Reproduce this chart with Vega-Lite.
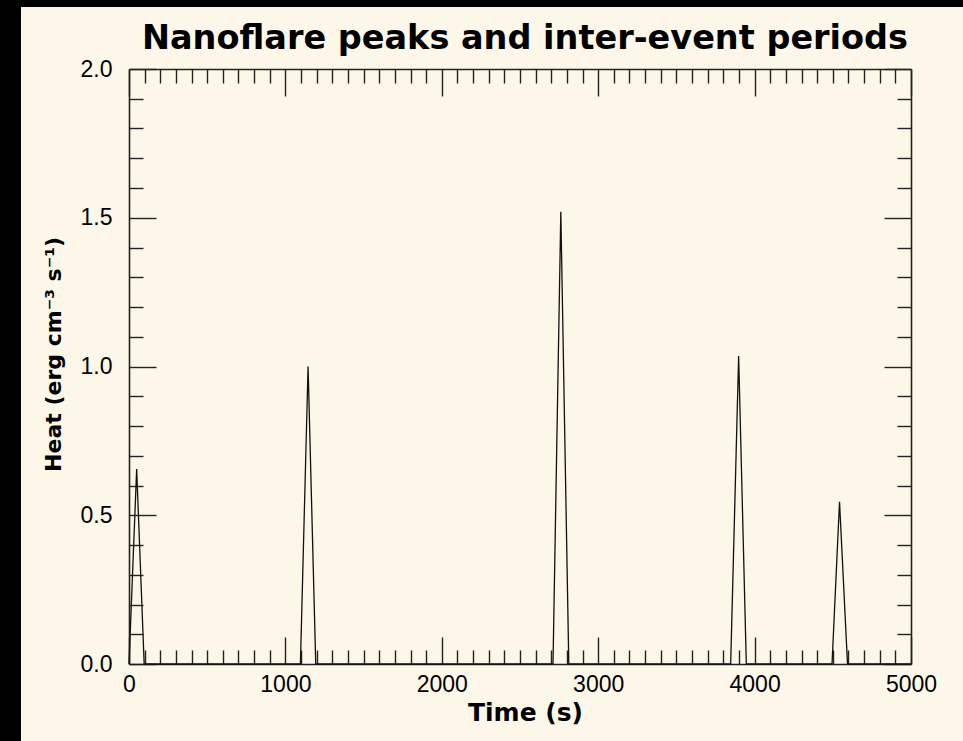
{
  "$schema": "https://vega.github.io/schema/vega-lite/v6.json",
  "padding": 0,
  "background": "#fdf7e9",
  "spacing": 0,
  "bounds": "flush",
  "config": {
    "view": {"stroke": null},
    "font": "Liberation Sans"
  },
  "vconcat": [
    {
      "width": 963,
      "height": 7,
      "data": {"values": []},
      "mark": {"type": "rect", "color": "black"},
      "view": {"fill": "black", "stroke": null}
    },
    {
      "spacing": 108,
      "bounds": "flush",
      "hconcat": [
        {
          "width": 21,
          "height": 734,
          "data": {"values": []},
          "mark": {"type": "rect", "color": "black"},
          "view": {"fill": "black", "stroke": null}
        },
        {
          "spacing": 61,
          "bounds": "flush",
          "vconcat": [
            {
              "width": 782,
              "height": 1,
              "data": {"values": []},
              "mark": {"type": "rect", "color": "black"},
              "view": {"stroke": null}
            },
            {
              "width": 782,
              "height": 595,
              "title": {
                "text": ["", "Nanoflare peaks and inter-event periods"],
                "lineHeight": 13,
                "font": "DejaVu Sans",
                "fontSize": 33.5,
                "fontWeight": "bold",
                "color": "black",
                "offset": 2,
                "frame": "group",
                "anchor": "middle",
                "dx": 5
              },
              "data": {
                "values": [
                  {"time": 0, "heat": 0},
                  {"time": 49, "heat": 0.655},
                  {"time": 97, "heat": 0},
                  {"time": 1096, "heat": 0},
                  {"time": 1145, "heat": 1.0},
                  {"time": 1194, "heat": 0},
                  {"time": 2711, "heat": 0},
                  {"time": 2761, "heat": 1.52},
                  {"time": 2812, "heat": 0},
                  {"time": 3847, "heat": 0},
                  {"time": 3898, "heat": 1.035},
                  {"time": 3947, "heat": 0},
                  {"time": 4495, "heat": 0},
                  {"time": 4543, "heat": 0.545},
                  {"time": 4594, "heat": 0},
                  {"time": 5000, "heat": 0}
                ]
              },
              "resolve": {"axis": {"x": "independent", "y": "independent"}},
              "layer": [
                {
                  "mark": {"type": "line", "color": "#111111", "strokeWidth": 1.3},
                  "encoding": {
                    "x": {
                      "field": "time",
                      "type": "quantitative",
                      "scale": {"domain": [0, 5000], "nice": false, "zero": false},
                      "axis": {
                        "orient": "bottom",
                        "values": [0,100,200,300,400,500,600,700,800,900,1000,1100,1200,1300,1400,1500,1600,1700,1800,1900,2000,2100,2200,2300,2400,2500,2600,2700,2800,2900,3000,3100,3200,3300,3400,3500,3600,3700,3800,3900,4000,4100,4200,4300,4400,4500,4600,4700,4800,4900,5000],
                        "format": "d",
                        "labelExpr": "datum.value % 1000 === 0 ? datum.label : ''",
                        "labelFont": "Liberation Sans",
                        "labelFontSize": 23,
                        "labelColor": "black",
                        "labelFlush": false,
                        "labelOverlap": false,
                        "labelBound": false,
                        "labelPadding": 36,
                        "tickSize": {"condition": {"test": "datum.value % 1000 === 0", "value": -27}, "value": -14},
                        "tickColor": "#222222",
                        "tickWidth": 1.4,
                        "domainColor": "#222222",
                        "domainWidth": 1.6,
                        "grid": false,
                        "title": "Time (s)",
                        "titleFont": "DejaVu Sans",
                        "titleFontSize": 25,
                        "titleFontWeight": "bold",
                        "titleColor": "black",
                        "titleBaseline": "alphabetic",
                        "titleY": 56,
                        "titleX": 396
                      }
                    },
                    "y": {
                      "field": "heat",
                      "type": "quantitative",
                      "scale": {"domain": [0, 2], "nice": false, "zero": false},
                      "axis": {
                        "orient": "left",
                        "values": [0,0.1,0.2,0.3,0.4,0.5,0.6,0.7,0.8,0.9,1,1.1,1.2,1.3,1.4,1.5,1.6,1.7,1.8,1.9,2],
                        "labelExpr": "abs(datum.value*2 - round(datum.value*2)) < 0.001 ? format(datum.value, '.1f') : ''",
                        "labelFont": "Liberation Sans",
                        "labelFontSize": 23,
                        "labelColor": "black",
                        "labelFlush": false,
                        "labelOverlap": false,
                        "labelBound": false,
                        "labelPadding": 44,
                        "tickSize": {"condition": {"test": "abs(datum.value*2 - round(datum.value*2)) < 0.001", "value": -27}, "value": -14},
                        "tickColor": "#222222",
                        "tickWidth": 1.4,
                        "domainColor": "#222222",
                        "domainWidth": 1.6,
                        "grid": false,
                        "title": "Heat (erg cm⁻³ s⁻¹)",
                        "titleFont": "DejaVu Sans",
                        "titleFontSize": 22,
                        "titleFontWeight": "bold",
                        "titleColor": "black",
                        "titlePadding": 15,
                        "titleY": 285
                      }
                    }
                  }
                },
                {
                  "mark": {"type": "line", "opacity": 0},
                  "encoding": {
                    "x": {
                      "field": "time",
                      "type": "quantitative",
                      "scale": {"domain": [0, 5000], "nice": false, "zero": false},
                      "axis": {
                        "orient": "top",
                        "values": [0,100,200,300,400,500,600,700,800,900,1000,1100,1200,1300,1400,1500,1600,1700,1800,1900,2000,2100,2200,2300,2400,2500,2600,2700,2800,2900,3000,3100,3200,3300,3400,3500,3600,3700,3800,3900,4000,4100,4200,4300,4400,4500,4600,4700,4800,4900,5000],
                        "labels": false,
                        "tickSize": {"condition": {"test": "datum.value % 1000 === 0", "value": -27}, "value": -14},
                        "tickColor": "#222222",
                        "tickWidth": 1.4,
                        "domainColor": "#222222",
                        "domainWidth": 1.6,
                        "grid": false,
                        "title": null
                      }
                    },
                    "y": {
                      "field": "heat",
                      "type": "quantitative",
                      "scale": {"domain": [0, 2], "nice": false, "zero": false},
                      "axis": {
                        "orient": "right",
                        "values": [0,0.1,0.2,0.3,0.4,0.5,0.6,0.7,0.8,0.9,1,1.1,1.2,1.3,1.4,1.5,1.6,1.7,1.8,1.9,2],
                        "labels": false,
                        "tickSize": {"condition": {"test": "abs(datum.value*2 - round(datum.value*2)) < 0.001", "value": -27}, "value": -14},
                        "tickColor": "#222222",
                        "tickWidth": 1.4,
                        "domainColor": "#222222",
                        "domainWidth": 1.6,
                        "grid": false,
                        "title": null
                      }
                    }
                  }
                }
              ]
            }
          ]
        }
      ]
    }
  ]
}
